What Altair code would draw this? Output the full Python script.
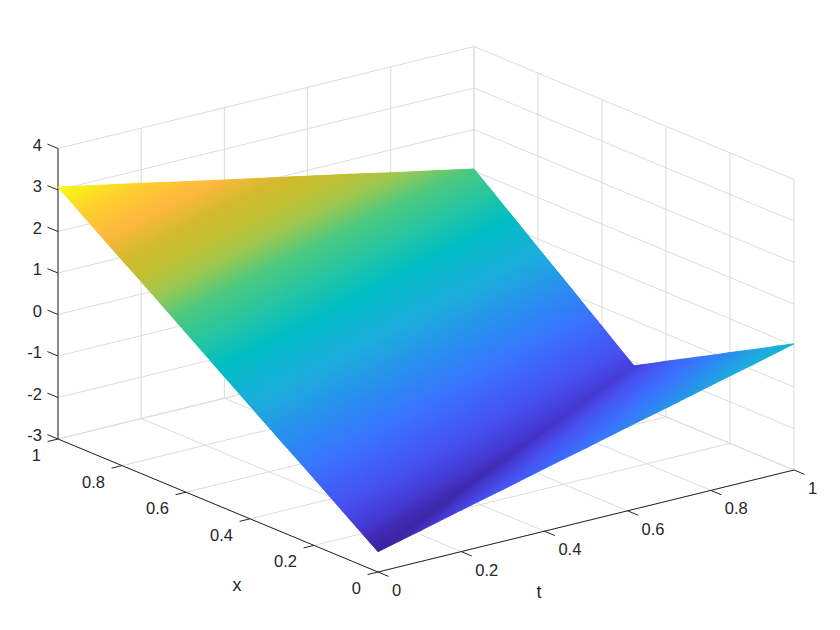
import altair as alt

T_GRID = [0, .1, .2, .3, .4, .5, .6, .7, .8, .9, 1]
X_GRID = [0, .05, .1, .15, .2, .25, .3, .35, .4, .45, .5, .55, .6, .65, .7, .75, .8, .85, .9, .95, 1]
# rows: t, columns: x
Z_T00 = [-2.51,-2.23,-1.95,-1.67,-1.39,-1.11,-.84,-.56,-.28,0,.28,.56,.84,1.12,1.40,1.68,1.95,2.23,2.51,2.79,3.07]
Z_T01 = [-2.26,-2.47,-2.19,-1.91,-1.63,-1.35,-1.06,-.78,-.50,-.22,.06,.34,.62,.90,1.18,1.46,1.74,2.03,2.31,2.59,2.87]
Z_T02 = [-2.00,-2.21,-2.43,-2.14,-1.86,-1.58,-1.29,-1.01,-.73,-.45,-.16,.12,.40,.69,.97,1.25,1.53,1.82,2.10,2.38,2.67]
Z_T03 = [-1.75,-1.96,-2.17,-2.38,-2.10,-1.81,-1.53,-1.24,-.96,-.67,-.39,-.10,.18,.47,.75,1.04,1.32,1.61,1.89,2.18,2.46]
Z_T04 = [-1.49,-1.70,-1.92,-2.13,-2.34,-2.05,-1.77,-1.48,-1.19,-.90,-.62,-.33,-.04,.25,.54,.82,1.11,1.40,1.69,1.97,2.26]
Z_T05 = [-1.24,-1.45,-1.66,-1.87,-2.09,-2.30,-2.01,-1.72,-1.43,-1.14,-.85,-.56,-.27,.03,.32,.61,.90,1.19,1.48,1.77,2.06]
Z_T06 = [-.98,-1.19,-1.41,-1.62,-1.83,-2.05,-2.26,-1.96,-1.67,-1.38,-1.08,-.79,-.49,-.20,.09,.39,.68,.98,1.27,1.56,1.86]
Z_T07 = [-.73,-.94,-1.15,-1.36,-1.58,-1.79,-2.00,-2.22,-1.92,-1.62,-1.32,-1.02,-.73,-.43,-.13,.17,.46,.76,1.06,1.36,1.66]
Z_T08 = [-.47,-.68,-.90,-1.11,-1.32,-1.54,-1.75,-1.96,-2.17,-1.87,-1.57,-1.27,-.96,-.66,-.36,-.06,.25,.55,.85,1.15,1.45]
Z_T09 = [-.22,-.43,-.64,-.85,-1.07,-1.28,-1.49,-1.71,-1.92,-2.13,-1.82,-1.52,-1.21,-.90,-.59,-.29,.02,.33,.64,.94,1.25]
Z_T10 = [.04,-.17,-.39,-.60,-.81,-1.03,-1.24,-1.45,-1.66,-1.88,-2.09,-1.78,-1.46,-1.15,-.83,-.52,-.21,.11,.42,.74,1.05]
Z_ROWS = [Z_T00, Z_T01, Z_T02, Z_T03, Z_T04, Z_T05, Z_T06, Z_T07, Z_T08, Z_T09, Z_T10]

T_TICKS = [0, .2, .4, .6, .8, 1]
X_TICKS = [0, .2, .4, .6, .8, 1]
Z_TICKS = [-3, -2, -1, 0, 1, 2, 3, 4]

CMAP_POS = [0, .03, .06, .12, .22, .30, .40, .5, .56, .64, .70, .75, .80, .86, .93, 1]
CMAP_COL = ["#3b249f", "#3f2ab0", "#4438d0", "#4650f0", "#3a72ff", "#2a8cf0", "#1caddc", "#00bdc4",
            "#20c4a8", "#4cc97f", "#9cc850", "#c0c032", "#d2ba2c", "#fdb83e", "#fdd02c", "#f7fa14"]
ZMIN, ZMAX = -2.51, 3.07

W, H = 824, 614
FONT = "Liberation Sans"
INK = "#262626"
GRID = "#dcdcdc"


def proj(t, x, z):
    # orthographic view of the axes box, in chart pixels
    sx = 378 + 416 * t - 320 * x - 8
    sy = 572 - 102 * t - 133 * x - 41.5 * (z + 3) - 8
    return sx, sy


def hex2rgb(h):
    return [int(h[i:i + 2], 16) for i in (1, 3, 5)]


def cmap(n):
    n = max(0.0, min(1.0, n))
    for i in range(len(CMAP_POS) - 1):
        if n <= CMAP_POS[i + 1]:
            f = (n - CMAP_POS[i]) / (CMAP_POS[i + 1] - CMAP_POS[i])
            a, b = hex2rgb(CMAP_COL[i]), hex2rgb(CMAP_COL[i + 1])
            return "#%02x%02x%02x" % tuple(round(p + (q - p) * f) for p, q in zip(a, b))
    return CMAP_COL[-1]


def facet_fill(pts, vals):
    """Linear SVG gradient that paints one flat triangle by its three corner values."""
    xs = [p[0] for p in pts]
    ys = [p[1] for p in pts]
    x0, x1, y0, y1 = min(xs), max(xs), min(ys), max(ys)
    uv = [((p[0] - x0) / (x1 - x0), (p[1] - y0) / (y1 - y0)) for p in pts]
    n = [(v - ZMIN) / (ZMAX - ZMIN) for v in vals]
    (u0, v0), (u1, v1), (u2, v2) = uv
    det = (u1 - u0) * (v2 - v0) - (u2 - u0) * (v1 - v0)
    a = ((n[1] - n[0]) * (v2 - v0) - (n[2] - n[0]) * (v1 - v0)) / det
    b = ((u1 - u0) * (n[2] - n[0]) - (u2 - u0) * (n[1] - n[0])) / det
    lo, hi = min(n), max(n)
    g2 = a * a + b * b
    if hi - lo < 1e-9 or g2 == 0:
        return {"gradient": "linear", "x1": 0, "y1": 0, "x2": 1, "y2": 0,
                "stops": [{"offset": 0, "color": cmap(lo)}, {"offset": 1, "color": cmap(lo)}]}
    k = n.index(lo)
    su, sv = uv[k]
    stops = [{"offset": 0, "color": cmap(lo)}]
    for p, c in zip(CMAP_POS, CMAP_COL):
        if lo < p < hi:
            stops.append({"offset": (p - lo) / (hi - lo), "color": c})
    stops.append({"offset": 1, "color": cmap(hi)})
    return {"gradient": "linear", "x1": su, "y1": sv,
            "x2": su + a * (hi - lo) / g2, "y2": sv + b * (hi - lo) / g2, "stops": stops}


# surface facets
rows = []
fid = 0
for i in range(len(T_GRID) - 1):
    for j in range(len(X_GRID) - 1):
        c00 = (i, j)
        c10 = (i + 1, j)
        c01 = (i, j + 1)
        c11 = (i + 1, j + 1)
        for tri in ((c00, c10, c11), (c00, c11, c01)):
            vals = [Z_ROWS[a][b] for a, b in tri]
            pts = [proj(T_GRID[a], X_GRID[b], Z_ROWS[a][b]) for a, b in tri]
            g = facet_fill(pts, vals)
            for k, p in enumerate(pts + pts[:1]):
                rows.append({"id": fid, "k": k, "px": p[0], "py": p[1], "grad": g})
            fid += 1

# grid lines and axes
grid = []
for t in T_TICKS:
    a = proj(t, 0, -3); b = proj(t, 1, -3); c = proj(t, 1, 4)
    grid.append((a, b)); grid.append((b, c))
for x in X_TICKS:
    a = proj(0, x, -3); b = proj(1, x, -3); c = proj(1, x, 4)
    grid.append((a, b)); grid.append((b, c))
for z in Z_TICKS:
    a = proj(0, 1, z); b = proj(1, 1, z); c = proj(1, 0, z)
    grid.append((a, b)); grid.append((b, c))

axes = [(proj(0, 1, -3), proj(0, 1, 4)), (proj(0, 0, -3), proj(0, 1, -3)), (proj(0, 0, -3), proj(1, 0, -3))]
for z in Z_TICKS:
    axes.append((proj(0, 1, z), proj(0, 1.033, z)))
for x in X_TICKS:
    axes.append((proj(0, x, -3), proj(-.025, x, -3)))
for t in T_TICKS:
    axes.append((proj(t, 0, -3), proj(t, -.033, -3)))

seg = lambda L: [{"x": a[0], "y": a[1], "x2": b[0], "y2": b[1]} for a, b in L]

z_labels = []
for z in Z_TICKS:
    p = proj(0, 1, z)
    z_labels.append({"x": p[0] - 16, "y": p[1] - 3, "s": str(z)})
x_labels = []
for x in X_TICKS:
    p = proj(0, x, -3)
    s = "0" if x == 0 else ("1" if x == 1 else str(x))
    x_labels.append({"x": p[0] - 17, "y": p[1] + 17, "s": s})
t_labels = []
for t in T_TICKS:
    p = proj(t, 0, -3)
    s = "0" if t == 0 else ("1" if t == 1 else str(t))
    t_labels.append({"x": p[0] + 14, "y": p[1] + 19, "s": s})
titles = [
    {"x": proj(0, .5, -3)[0] + 19, "y": proj(0, .5, -3)[1] + 80, "s": "x"},
    {"x": proj(.5, 0, -3)[0] - 47, "y": proj(.5, 0, -3)[1] + 72, "s": "t"},
]

sx = alt.Scale(domain=[0, W], range=[0, W], nice=False, zero=False)
sy = alt.Scale(domain=[0, H], range=[0, H], nice=False, zero=False)
X = lambda f="x": alt.X(f + ":Q", scale=sx, axis=None)
Y = lambda f="y": alt.Y(f + ":Q", scale=sy, axis=None)

grid_layer = alt.Chart(alt.Data(values=seg(grid))).mark_rule(color=GRID, strokeWidth=1).encode(
    x=X(), y=Y(), x2="x2:Q", y2="y2:Q")
axes_layer = alt.Chart(alt.Data(values=seg(axes))).mark_rule(color=INK, strokeWidth=1).encode(
    x=X(), y=Y(), x2="x2:Q", y2="y2:Q")
surface_under = alt.Chart(alt.Data(values=rows)).mark_line(strokeWidth=0.8, strokeJoin="round", interpolate="linear").encode(
    x=X("px"), y=Y("py"),
    detail="id:N", order="k:Q",
    fill=alt.Fill("grad:N", scale=None, legend=None),
    stroke=alt.Stroke("grad:N", scale=None, legend=None),
)
surface_over = alt.Chart(alt.Data(values=rows)).mark_line(strokeWidth=0, interpolate="linear").encode(
    x=X("px"), y=Y("py"),
    detail="id:N", order="k:Q",
    fill=alt.Fill("grad:N", scale=None, legend=None),
)
z_text = alt.Chart(alt.Data(values=z_labels)).mark_text(font=FONT, fontSize=16.5, color=INK, baseline="middle", align="right").encode(
    x=X(), y=Y(), text="s:N")
x_text = alt.Chart(alt.Data(values=x_labels)).mark_text(font=FONT, fontSize=16.5, color=INK, baseline="middle", align="right").encode(
    x=X(), y=Y(), text="s:N")
t_text = alt.Chart(alt.Data(values=t_labels)).mark_text(font=FONT, fontSize=16.5, color=INK, baseline="middle", align="left").encode(
    x=X(), y=Y(), text="s:N")
title_layer = alt.Chart(alt.Data(values=titles)).mark_text(font=FONT, fontSize=18, color=INK, baseline="middle", align="center").encode(
    x=X(), y=Y(), text="s:N")

chart = alt.layer(grid_layer, axes_layer, surface_under, surface_over, z_text, x_text, t_text, title_layer).properties(
    width=W, height=H, padding=0, autosize=alt.AutoSizeParams(type="none")
).configure_view(stroke=None)

chart.save("out.html", embed_options={"renderer": "svg", "actions": False})
